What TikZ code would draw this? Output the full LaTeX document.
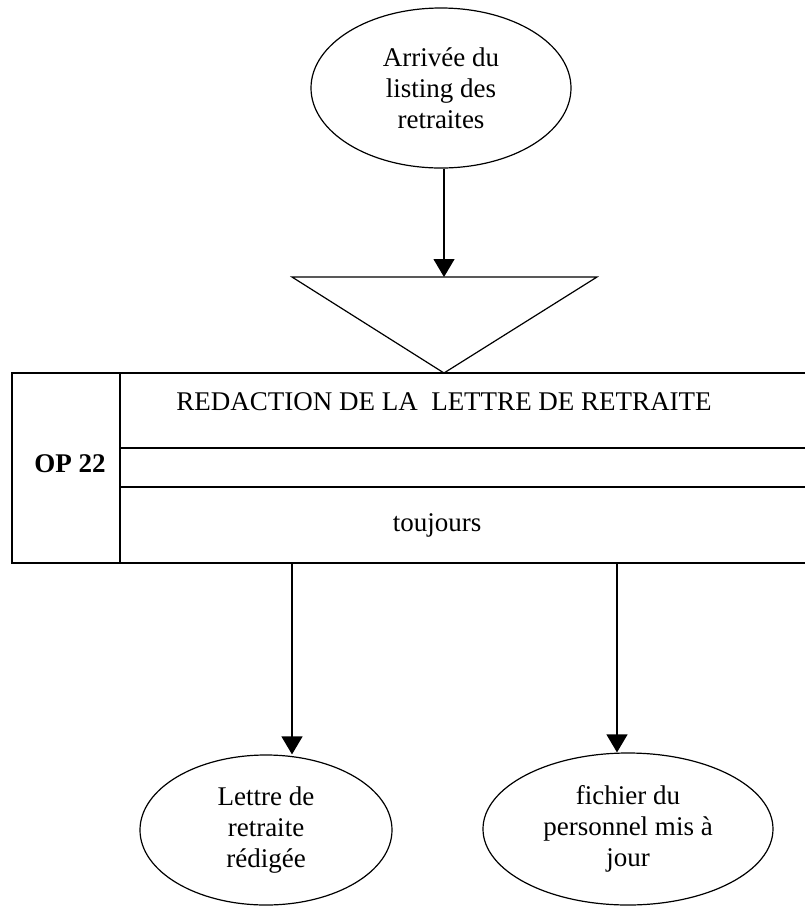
\documentclass[tikz,border=0pt]{standalone}
\usepackage{fontspec}
\setmainfont{Liberation Serif}
\usetikzlibrary{shapes.geometric,arrows.meta}
\begin{document}
\begin{tikzpicture}[x=1pt,y=-1pt,
  line width=1.2pt,
  txt/.style={font=\fontsize{27}{31}\selectfont},
  event/.style={draw,ellipse,inner sep=0pt,txt,align=center},
  arr/.style={-{Triangle[width=21pt,length=18pt]}}]
  \useasboundingbox (0,0) rectangle (805,906);

  % events
  \node[event,minimum width=260pt,minimum height=160pt] (arrive) at (441,88)
    {Arrivée du\\listing des\\retraites};
  \node[event,minimum width=252pt,minimum height=150pt] (lettre) at (266,830)
    {Lettre de\\retraite\\rédigée};
  \node[event,minimum width=290pt,minimum height=152pt] (fichier) at (628,829)
    {fichier du\\personnel mis à\\jour};

  % synchronisation triangle
  \coordinate (tl) at (292,277);
  \coordinate (tr) at (597,277);
  \coordinate (tapex) at (444,373);
  \coordinate (ttop) at (444,277);
  \draw (tl) -- (tr) -- (tapex) -- cycle;

  % operation box
  \coordinate (bl) at (12,563);
  \coordinate (tlbox) at (12,373);
  \draw (805,373) -- (tlbox) -- (bl) -- (805,563);
  \draw (120,373) -- (120,563);
  \draw (120,448) -- (805,448);
  \draw (120,487) -- (805,487);
  \node[txt,font=\fontsize{27}{31}\selectfont\bfseries] (op) at (70,464) {OP 22};
  \node[txt] (title) at (444,402) {REDACTION DE LA\ \ LETTRE DE RETRAITE};
  \node[txt] (rule) at (437,525) {toujours};

  % connectors
  \coordinate (out1) at (292,563);
  \coordinate (out2) at (617,563);
  \draw[arr] (ttop |- arrive.south) -- (ttop);
  \draw[arr] (out1) -- (out1 |- lettre.north);
  \draw[arr] (out2) -- (out2 |- fichier.north);
\end{tikzpicture}
\end{document}
